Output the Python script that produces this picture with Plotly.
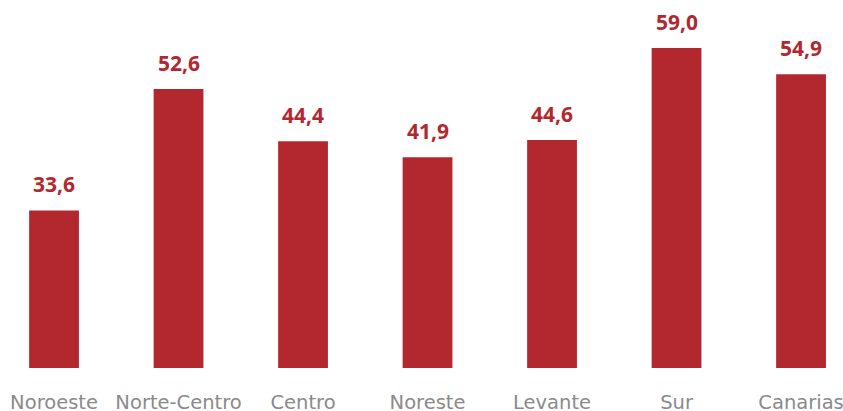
import plotly.graph_objects as go

regions = ["Noroeste", "Norte-Centro", "Centro", "Noreste", "Levante", "Sur", "Canarias"]
values = [33.6, 52.6, 44.4, 41.9, 44.6, 59.0, 54.9]

bar_color = "#b3282e"

fig = go.Figure(go.Bar(
    x=regions, y=values,
    marker=dict(color=bar_color, line=dict(width=0)),
    width=0.4,
    hoverinfo="skip",
))

for r, v in zip(regions, values):
    fig.add_annotation(
        x=r, y=v, text=f"{v:.1f}".replace(".", ","),
        showarrow=False, yanchor="bottom", yshift=10,
        font=dict(family="Open Sans", size=21, color=bar_color, weight="bold"),
    )

fig.update_layout(
    width=843, height=411,
    margin=dict(l=0, r=0, t=0, b=43, autoexpand=False),
    paper_bgcolor="white", plot_bgcolor="white",
    showlegend=False,
    xaxis=dict(
        range=[-0.434, 6.337], showgrid=False, zeroline=False, showline=False,
        ticks="", ticklabelstandoff=20, automargin=False,
        tickfont=dict(family="DejaVu Sans", size=19.5, color="#8a8a8a"),
    ),
    yaxis=dict(range=[8.95, 66.5], visible=False, automargin=False),
)

fig.write_html(
    "out.html",
    config={"displayModeBar": False},
    post_script="document.body.style.margin='0';document.body.style.overflow='hidden';",
)
